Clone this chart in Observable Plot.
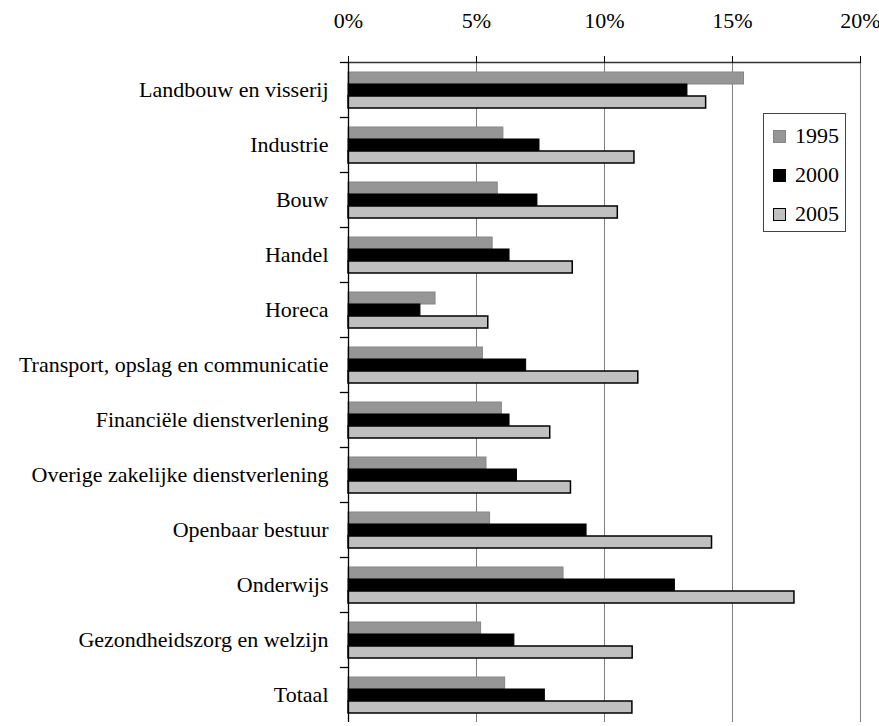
<!DOCTYPE html>
<html>
<head>
<meta charset="utf-8">
<script src="https://cdn.jsdelivr.net/npm/d3@7"></script>
<script src="https://cdn.jsdelivr.net/npm/@observablehq/plot@0.6"></script>
<style>
  html, body { margin: 0; padding: 0; background: #fff; }
  #wrap { position: relative; width: 879px; height: 726px; overflow: hidden; }
  #legend { position: absolute; left: 763px; top: 113px; width: 81px; height: 117px;
    border: 1px solid #444; background: #fff; font-family: "Liberation Serif", "Times New Roman", serif; font-size: 22px; }
  .item { position: absolute; left: 9px; height: 22px; display: flex; align-items: center; }
  .sw { width: 13px; height: 13px; box-sizing: border-box; margin-right: 9px; }
</style>
</head>
<body>
<div id="wrap"><div id="chart"></div><div id="legend"></div></div>
<script>
const categories = [
  "Landbouw en visserij", "Industrie", "Bouw", "Handel", "Horeca",
  "Transport, opslag en communicatie", "Financiële dienstverlening",
  "Overige zakelijke dienstverlening", "Openbaar bestuur", "Onderwijs",
  "Gezondheidszorg en welzijn", "Totaal"
];
const years = ["1995", "2000", "2005"];
const v1995 = [15.45, 6.05, 5.83, 5.63, 3.40, 5.25, 5.99, 5.39, 5.53, 8.40, 5.18, 6.12];
const v2000 = [13.24, 7.46, 7.38, 6.29, 2.81, 6.94, 6.29, 6.58, 9.30, 12.75, 6.48, 7.67];
const v2005 = [13.97, 11.17, 10.52, 8.76, 5.46, 11.32, 7.88, 8.69, 14.20, 17.42, 11.10, 11.09];
const xTicks = [0, 5, 10, 15, 20];

const series = {"1995": v1995, "2000": v2000, "2005": v2005};
const data = years.flatMap(y => categories.map((c, i) => ({category: c, year: y, value: series[y][i]})));

const styles = {
  "1995": {fill: "#969696", stroke: "#858585", strokeWidth: 1},
  "2000": {fill: "#000000", stroke: "#000000", strokeWidth: 1},
  "2005": {fill: "#c0c0c0", stroke: "#000000", strokeWidth: 1.5}
};

const W = 879, mL = 348, mR = 19;
const plotW = W - mL - mR;

const chart = Plot.plot({
  width: W,
  height: 726,
  marginTop: 57,
  marginLeft: mL,
  marginRight: mR,
  marginBottom: 0,
  style: {fontFamily: "'Liberation Serif', 'Times New Roman', serif", fontSize: "22px", color: "#000", background: "#fff"},
  x: {domain: [0, 20], axis: null},
  y: {domain: years, paddingInner: 0, paddingOuter: 0.71, axis: null},
  fy: {domain: categories, padding: 0, axis: null},
  marks: [
    Plot.gridX(xTicks.slice(1), {stroke: "#808080", strokeOpacity: 1, strokeWidth: 1}),
    ...years.map(yr => Plot.barX(data.filter(d => d.year === yr), {
      fy: "category", y: "year", x: "value", ...styles[yr]
    })),
    Plot.ruleX([0], {stroke: "#000", strokeWidth: 1.3}),
    Plot.frame({anchor: "top", insetLeft: -8, insetRight: plotW, stroke: "#000", strokeWidth: 1.3}),
    Plot.frame({anchor: "top", facetAnchor: "top", stroke: "#333", strokeWidth: 1.3}),
    Plot.axisX({anchor: "top", ticks: xTicks, tickFormat: d => d + "%", tickSize: 7, tickPadding: 28, label: null, fontSize: 22}),
    Plot.axisFy({anchor: "left", tickSize: 0, tickPadding: 20, label: null, fontSize: 22})
  ]
});
document.getElementById("chart").appendChild(chart);

const legend = document.getElementById("legend");
years.forEach((yr, i) => {
  const item = document.createElement("div");
  item.className = "item";
  item.style.top = (11 + i * 39) + "px";
  const sw = document.createElement("span");
  sw.className = "sw";
  sw.style.background = styles[yr].fill;
  sw.style.border = (yr === "2005" ? "1.5px solid #000" : "1px solid " + styles[yr].stroke);
  const t = document.createElement("span");
  t.textContent = yr;
  item.appendChild(sw);
  item.appendChild(t);
  legend.appendChild(item);
});
</script>
</body>
</html>
